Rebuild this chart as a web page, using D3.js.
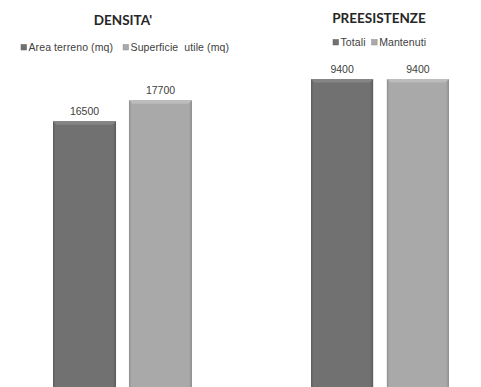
<!DOCTYPE html>
<html>
<head>
<meta charset="utf-8">
<script src="https://cdn.jsdelivr.net/npm/d3@7"></script>
<style>
  html, body { margin: 0; padding: 0; background: #fff; }
  svg { display: block; }
</style>
</head>
<body>
<svg id="chart" width="481" height="387"></svg>
<script>
// Density panel
const densCategories = ["Area terreno (mq)", "Superficie  utile (mq)"];
const densValues = [16500, 17700];
// Existing buildings panel
const preCategories = ["Totali", "Mantenuti"];
const preValues = [9400, 9400];

const colors = ["#717171", "#a9a9a9"];
const edgeColors = ["#5c5c5c", "#8e8e8e"];
const topColors = ["#858585", "#bcbcbc"];

const svg = d3.select("#chart");

const defs = svg.append("defs");
colors.forEach((c, i) => {
  const g = defs.append("linearGradient").attr("id", "grad" + i)
    .attr("x1", 0).attr("x2", 1).attr("y1", 0).attr("y2", 0);
  g.append("stop").attr("offset", "0%").attr("stop-color", edgeColors[i]);
  g.append("stop").attr("offset", "4%").attr("stop-color", c);
  g.append("stop").attr("offset", "95%").attr("stop-color", c);
  g.append("stop").attr("offset", "100%").attr("stop-color", edgeColors[i]);
});

function panel(opts) {
  const { title, cats, vals, xRange, pad, yMax, yTopPx, titleX, titleY, legendX, legendY, legendGap } = opts;
  const baseline = 410;
  const x = d3.scaleBand().domain(cats).range(xRange).paddingInner(pad).paddingOuter(0);
  const y = d3.scaleLinear().domain([0, yMax]).range([baseline, yTopPx]);
  const g = svg.append("g");

  g.append("text")
    .attr("x", titleX).attr("y", titleY)
    .attr("text-anchor", "middle")
    .attr("font-family", "Lato, 'Open Sans', sans-serif")
    .attr("font-weight", "bold")
    .attr("font-size", 13.5)
    .attr("fill", "#262626")
    .text(title);

  // legend
  let lx = legendX;
  cats.forEach((c, i) => {
    g.append("rect").attr("x", lx).attr("y", legendY - 6.5).attr("width", 5.5).attr("height", 5.5)
      .attr("fill", colors[i]).attr("stroke", edgeColors[i]).attr("stroke-width", 0.5);
    const t = g.append("text")
      .attr("x", lx + 7.5).attr("y", legendY)
      .attr("font-family", "'Liberation Sans', Arial, sans-serif")
      .attr("font-size", 10.5)
      .attr("letter-spacing", 0.1)
      .attr("fill", "#404040")
      .attr("xml:space", "preserve")
      .text(c);
    lx += 7.5 + t.node().getComputedTextLength() + legendGap;
  });

  const bars = g.selectAll("g.bar").data(vals).join("g").attr("class", "bar");
  bars.append("rect")
    .attr("x", (d, i) => x(cats[i]))
    .attr("y", d => y(d))
    .attr("width", x.bandwidth())
    .attr("height", d => baseline - y(d))
    .attr("fill", (d, i) => `url(#grad${i})`);
  // top bevel
  bars.append("path")
    .attr("d", (d, i) => {
      const x0 = x(cats[i]), x1 = x0 + x.bandwidth(), yt = y(d), b = 3.5;
      return `M${x0},${yt}L${x1},${yt}L${x1 - b},${yt + b}L${x0 + b},${yt + b}Z`;
    })
    .attr("fill", (d, i) => topColors[i]);
  bars.append("text")
    .attr("x", (d, i) => x(cats[i]) + x.bandwidth() / 2)
    .attr("y", d => y(d) - 6)
    .attr("text-anchor", "middle")
    .attr("font-family", "'Liberation Sans', Arial, sans-serif")
    .attr("font-size", 10.5)
    .attr("fill", "#404040")
    .text(d => d);
}

panel({
  title: "DENSITA'", cats: densCategories, vals: densValues,
  xRange: [53, 192], pad: 0.17, yMax: 20000, yTopPx: 60,
  titleX: 123, titleY: 25, legendX: 21, legendY: 51, legendGap: 10
});

panel({
  title: "PREESISTENZE", cats: preCategories, vals: preValues,
  xRange: [311, 449], pad: 0.18, yMax: 10000, yTopPx: 58,
  titleX: 379, titleY: 23, legendX: 333, legendY: 46, legendGap: 6
});
</script>
</body>
</html>
